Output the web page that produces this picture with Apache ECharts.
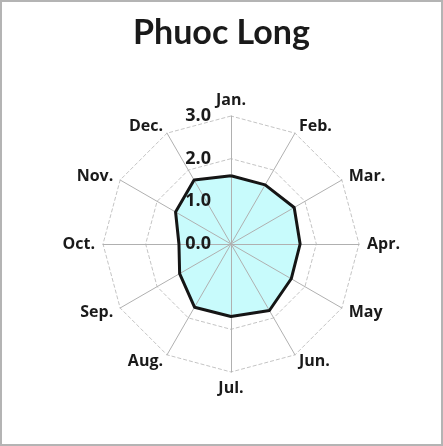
<!DOCTYPE html>
<html><head><meta charset="utf-8">
<script src="https://cdn.jsdelivr.net/npm/echarts@6/dist/echarts.min.js"></script>
<style>html,body{margin:0;padding:0;background:#fff}#c{width:443px;height:446px;box-sizing:border-box;border:2px solid #b4b4b4}</style>
</head><body><div id="c"></div>
<script>
var months = ['Jan.','Feb.','Mar.','Apr.','May','Jun.','Jul.','Aug.','Sep.','Oct.','Nov.','Dec.'];
var values = [1.60,1.60,1.71,1.62,1.63,1.80,1.70,1.71,1.39,1.22,1.50,1.73];
var tickLabels = ['0.0','1.0','2.0','3.0'];
var maxVal = 3;

// ECharts radar runs counter-clockwise; reorder so months run clockwise
var order = [0].concat(months.map(function(_,i){return i;}).slice(1).reverse());
function makeIndicators(withLabel){
  return order.map(function(idx,k){
    var ind = {name:months[idx], min:0, max:maxVal};
    if(withLabel && k===0){ ind.axisLabel = {show:true}; }
    return ind;
  });
}
var ordValues = order.map(function(idx){ return values[idx]; });

var base = {center:[229,242], radius:128, startAngle:90, shape:'polygon', splitNumber:3,
  splitArea:{show:false}, axisTick:{show:false}};

var chart = echarts.init(document.getElementById('c'));
chart.setOption({
  animation:false,
  title:{text:'Phuoc Long', left:'center', top:9,
    textStyle:{fontFamily:'Lato', fontWeight:'bold', fontSize:34, color:'#1a1a1a'}},
  radar:[
    Object.assign({}, base, {
      z:0,
      indicator:makeIndicators(false),
      axisName:{color:'#1a1a1a', fontFamily:'Open Sans', fontWeight:'bold', fontSize:16},
      nameGap:8,
      axisLine:{show:false},
      splitLine:{lineStyle:{color:'#c4c4c4', type:'dashed', width:1}},
      axisLabel:{show:false}
    }),
    Object.assign({}, base, {
      z:2,
      indicator:makeIndicators(true),
      axisName:{show:false},
      axisLine:{lineStyle:{color:'#b0b0b0', width:1}},
      splitLine:{show:false},
      axisLabel:{show:false, showMinLabel:true, showMaxLabel:true, hideOverlap:false, margin:20,
        padding:[5,0,0,0],
        color:'#1a1a1a', fontFamily:'Open Sans', fontWeight:'bold', fontSize:18,
        formatter:function(v){ var i=Math.round(v); return tickLabels[i]!==undefined?tickLabels[i]:v.toFixed(1); }}
    })
  ],
  series:[
    {type:'radar', radarIndex:0, z:1, symbol:'none', silent:true,
      lineStyle:{width:0, opacity:0},
      areaStyle:{color:'#c8fbfc', opacity:1},
      data:[{value:ordValues}]},
    {type:'radar', radarIndex:0, z:3, symbol:'none',
      lineStyle:{color:'#151515', width:3},
      data:[{value:ordValues, lineStyle:{color:'#151515', width:3}}]}
  ]
});
</script></body></html>
